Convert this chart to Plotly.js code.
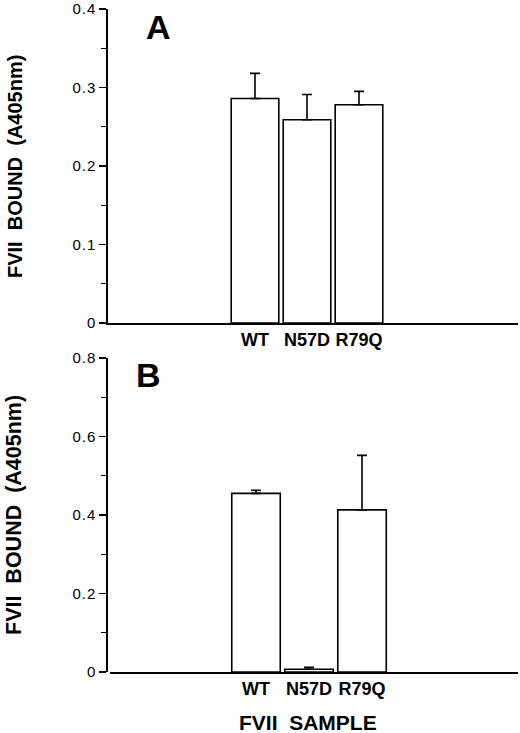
<!DOCTYPE html>
<html>
<head>
<meta charset="utf-8">
<script src="https://cdn.plot.ly/plotly-3.0.1.min.js"></script>
<style>
html,body{margin:0;padding:0;background:#fff;}
#chart{width:520px;height:733px;}
#chart .ytick text, #chart .y2tick text{letter-spacing:1px;}
</style>
</head>
<body>
<div id="chart"></div>
<script>
// Data
var samples = ["WT", "N57D", "R79Q"];
var boundA = [0.286, 0.259, 0.278];
var errA = [0.032, 0.032, 0.017];
var boundB = [0.455, 0.007, 0.413];
var errB = [0.008, 0.005, 0.139];
var yTicksA = [0, 0.1, 0.2, 0.3, 0.4];
var yTickTextA = ["0", "0.1", "0.2", "0.3", "0.4"];
var yTicksB = [0, 0.2, 0.4, 0.6, 0.8];
var yTickTextB = ["0", "0.2", "0.4", "0.6", "0.8"];

var W = 520, H = 733;
function px(x) { return x / W; }
function py(y) { return (H - y) / H; }

var FONT = "Liberation Sans, Arial, sans-serif";

function barTrace(vals, errs, xa, ya) {
  return {
    type: "bar",
    x: samples,
    y: vals,
    xaxis: xa,
    yaxis: ya,
    marker: { color: "#ffffff", line: { color: "#000000", width: 1.6 } },
    error_y: {
      type: "data",
      symmetric: false,
      array: errs,
      arrayminus: errs.map(function () { return 0; }),
      color: "#000000",
      thickness: 1.6,
      width: 5
    },
    hoverinfo: "skip",
    showlegend: false
  };
}

var data = [
  barTrace(boundA, errA, "x", "y"),
  barTrace(boundB, errB, "x2", "y2")
];

function yAxis(domain, range, tv, tt, dminor) {
  return {
    domain: domain,
    range: range,
    showline: true, linecolor: "#000", linewidth: 1.6,
    showgrid: false, zeroline: false,
    ticks: "outside", ticklen: 7, tickwidth: 1.4, tickcolor: "#000",
    tickmode: "array", tickvals: tv, ticktext: tt,
    minor: { dtick: dminor, ticks: "outside", ticklen: 5, tickwidth: 1.4, tickcolor: "#000", showgrid: false },
    tickfont: { family: FONT, size: 15, color: "#000" },
    fixedrange: true
  };
}

function xAxis(domain, range, anchor) {
  return {
    domain: domain,
    range: range,
    anchor: anchor,
    type: "category",
    showline: true, linecolor: "#000", linewidth: 1.6,
    showgrid: false, zeroline: false,
    ticks: "",
    tickfont: { family: FONT, size: 18, color: "#000", weight: "bold" },
    fixedrange: true
  };
}

var layout = {
  width: W, height: H,
  margin: { l: 0, r: 0, t: 0, b: 0 },
  paper_bgcolor: "#fff", plot_bgcolor: "rgba(0,0,0,0)",
  bargap: 0.085,
  xaxis: xAxis([px(108), px(518)], [-2.827, 5.058], "y"),
  yaxis: yAxis([py(323), py(9)], [0, 0.4], yTicksA, yTickTextA, 0.05),
  xaxis2: xAxis([px(110), px(518)], [-2.755, 4.943], "y2"),
  yaxis2: yAxis([py(672), py(358)], [0, 0.8], yTicksB, yTickTextB, 0.1),
  annotations: [
    { text: "<b>A</b>", xref: "paper", yref: "paper", x: px(158), y: py(27), showarrow: false,
      font: { family: FONT, size: 34, color: "#000" }, xanchor: "center", yanchor: "middle" },
    { text: "<b>B</b>", xref: "paper", yref: "paper", x: px(148), y: py(375), showarrow: false,
      font: { family: FONT, size: 34, color: "#000" }, xanchor: "center", yanchor: "middle" },
    { text: "<b>FVII  BOUND  (A405nm)</b>", xref: "paper", yref: "paper", x: px(15), y: py(167), showarrow: false,
      textangle: -90, font: { family: FONT, size: 20, color: "#000" }, xanchor: "center", yanchor: "middle" },
    { text: "<b>FVII  BOUND  (A405nm)</b>", xref: "paper", yref: "paper", x: px(14), y: py(515), showarrow: false,
      textangle: -90, font: { family: FONT, size: 21.5, color: "#000" }, xanchor: "center", yanchor: "middle" },
    { text: "<b>FVII  SAMPLE</b>", xref: "paper", yref: "paper", x: px(308), y: py(722), showarrow: false,
      font: { family: FONT, size: 21, color: "#000" }, xanchor: "center", yanchor: "middle" }
  ]
};

Plotly.newPlot("chart", data, layout, { displayModeBar: false, staticPlot: true });
</script>
</body>
</html>
